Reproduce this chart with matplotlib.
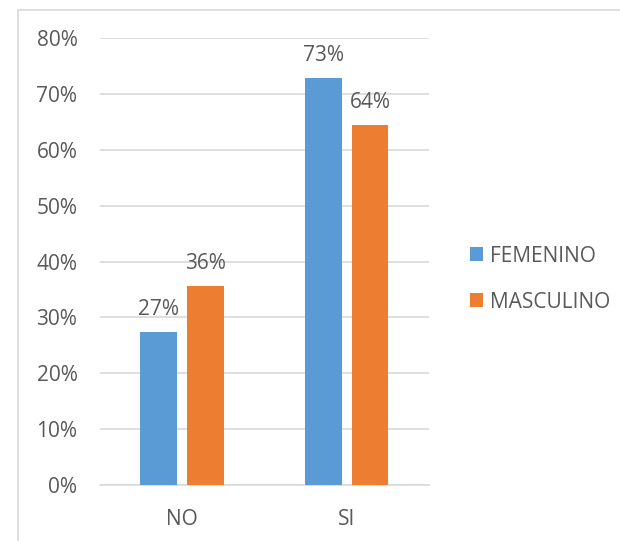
import matplotlib
matplotlib.use("Agg")
import matplotlib.pyplot as plt
from matplotlib.patches import Rectangle
import numpy as np

categories = ["NO", "SI"]
series_names = ["FEMENINO", "MASCULINO"]
femenino = [27.3, 72.8]
masculino = [35.6, 64.4]
labels_fem = ["27%", "73%"]
labels_masc = ["36%", "64%"]
yticks = [0, 10, 20, 30, 40, 50, 60, 70, 80]

plt.rcParams['font.family'] = ['Open Sans', 'DejaVu Sans']
text_color = "#595959"
grid_color = "#d9d9d9"
colors = ["#5B9BD5", "#ED7D31"]
fs = 15

fig = plt.figure(figsize=(6.2, 5.41), dpi=100)
fig.patches.append(Rectangle((18/620, -0.1), 1.0, 1 - 10/541 + 0.1, transform=fig.transFigure,
                             fill=False, edgecolor=grid_color, linewidth=1.2))
ax = fig.add_axes([99.6/620, 1 - 485/541, (429 - 99.6)/620, (485 - 38)/541])

x = np.arange(len(categories))
w = 0.224
off = 0.142
b1 = ax.bar(x - off, femenino, w, color=colors[0], label=series_names[0], zorder=3)
b2 = ax.bar(x + off, masculino, w, color=colors[1], label=series_names[1], zorder=3)

for bars, labs in ((b1, labels_fem), (b2, labels_masc)):
    for r, lab in zip(bars, labs):
        ax.annotate(lab, (r.get_x() + r.get_width()/2, r.get_height()),
                    xytext=(0, 9), textcoords="offset points", ha="center", va="bottom",
                    fontsize=fs, color=text_color)

ax.set_xlim(-0.5, 1.5)
ax.set_ylim(0, 80)
ax.set_yticks(yticks)
ax.set_yticklabels([f"{v}%" for v in yticks])
ax.set_xticks(x)
ax.set_xticklabels(categories)
ax.tick_params(axis='both', length=0, colors=text_color, labelsize=fs)
ax.tick_params(axis='y', pad=16)
ax.tick_params(axis='x', pad=17)
ax.grid(axis='y', color=grid_color, linewidth=1.2, zorder=0)
for s in ["top", "right", "left"]:
    ax.spines[s].set_visible(False)
ax.spines["bottom"].set_color(grid_color)
ax.spines["bottom"].set_linewidth(1.2)

leg = fig.legend(loc="center left", bbox_to_anchor=(451/620, 1 - 279/541), frameon=False,
                 fontsize=fs, handlelength=0.65, handleheight=0.65, handletextpad=0.3,
                 labelspacing=1.2, labelcolor=text_color)

fig.savefig("out.png", dpi=100)
